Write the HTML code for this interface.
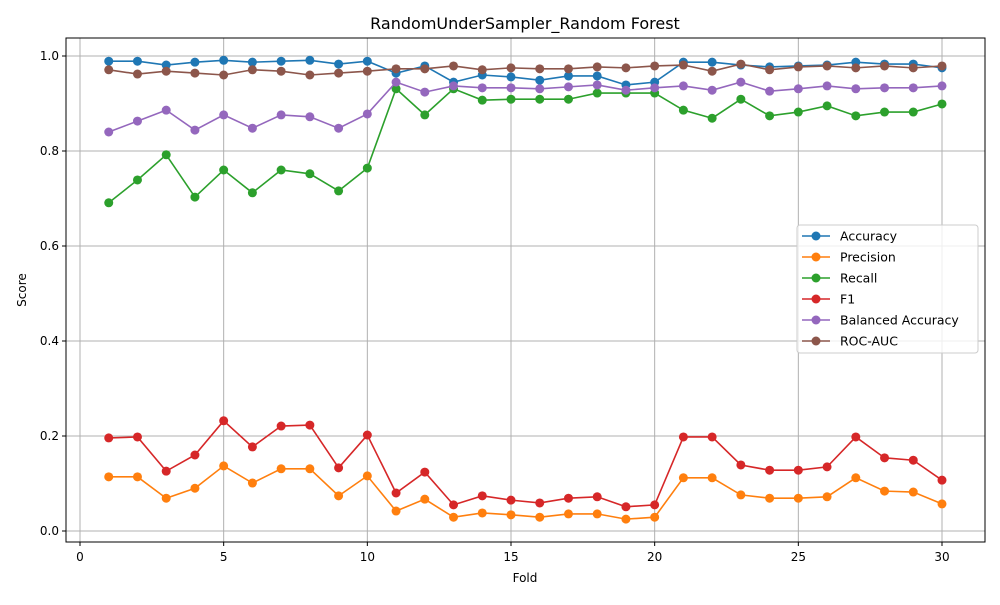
<!DOCTYPE html>
<html><head><meta charset="utf-8"><style>
body{margin:0;background:#fff;font-family:"Liberation Sans","DejaVu Sans",sans-serif;}
svg text{font-family:"DejaVu Sans","Liberation Sans",sans-serif;}
</style></head><body>
<svg id="chart" width="1000" height="600" viewBox="0 0 1000 600">
<rect width="1000" height="600" fill="#fff"/>
<text x="525" y="29" font-size="16" text-anchor="middle">RandomUnderSampler_Random Forest</text>
<g id="grid"></g>
<g id="series"></g>
<rect x="66" y="38" width="919" height="504" fill="none" stroke="#000" stroke-width="1"/>
<g id="axes"></g>
<text x="525" y="582" font-size="12" text-anchor="middle">Fold</text>
<text x="26" y="290" font-size="12" text-anchor="middle" transform="rotate(-90 26 290)">Score</text>
<g id="legend"></g>
</svg>
<script>
const folds = Array.from({length:30},(_,i)=>i+1);
const accuracy = [0.989,0.989,0.981,0.987,0.991,0.987,0.989,0.991,0.983,0.989,0.964,0.979,0.945,0.960,0.956,0.949,0.958,0.958,0.939,0.945,0.987,0.987,0.981,0.977,0.979,0.981,0.987,0.983,0.983,0.975];
const precision = [0.114,0.114,0.069,0.090,0.137,0.101,0.131,0.131,0.074,0.116,0.042,0.067,0.029,0.038,0.034,0.029,0.036,0.036,0.025,0.029,0.112,0.112,0.076,0.069,0.069,0.072,0.112,0.084,0.082,0.057];
const recall = [0.691,0.739,0.792,0.703,0.760,0.712,0.760,0.752,0.716,0.764,0.931,0.876,0.931,0.907,0.909,0.909,0.909,0.922,0.922,0.922,0.886,0.869,0.909,0.874,0.882,0.895,0.874,0.882,0.882,0.899];
const f1 = [0.196,0.198,0.126,0.160,0.232,0.177,0.221,0.223,0.133,0.202,0.080,0.124,0.055,0.074,0.065,0.059,0.069,0.072,0.051,0.055,0.198,0.198,0.139,0.128,0.128,0.135,0.198,0.154,0.149,0.107];
const balancedAccuracy = [0.840,0.863,0.886,0.844,0.876,0.848,0.876,0.872,0.848,0.878,0.945,0.924,0.937,0.933,0.933,0.931,0.935,0.939,0.928,0.933,0.937,0.928,0.945,0.926,0.931,0.937,0.931,0.933,0.933,0.937];
const rocAuc = [0.971,0.962,0.968,0.964,0.960,0.971,0.968,0.960,0.964,0.968,0.973,0.973,0.979,0.971,0.975,0.973,0.973,0.977,0.975,0.979,0.981,0.968,0.983,0.971,0.977,0.979,0.975,0.979,0.975,0.979];
const seriesNames = ["Accuracy","Precision","Recall","F1","Balanced Accuracy","ROC-AUC"];
const xTicks = [0,5,10,15,20,25,30];
const yTicks = [0.0,0.2,0.4,0.6,0.8,1.0];

const colors = ["#1f77b4","#ff7f0e","#2ca02c","#d62728","#9467bd","#8c564b"];
const allSeries = [accuracy,precision,recall,f1,balancedAccuracy,rocAuc];
const NS = "http://www.w3.org/2000/svg";
const xs = v => 80 + v*(942-80)/30;
const ys = v => 531 - v*475;
function mk(tag, attrs, parent){const e=document.createElementNS(NS,tag);for(const k in attrs)e.setAttribute(k,attrs[k]);parent.appendChild(e);return e;}
const grid=document.getElementById('grid'), axes=document.getElementById('axes'), ser=document.getElementById('series'), leg=document.getElementById('legend');
xTicks.forEach(t=>{
  const g=mk('line',{x1:xs(t),x2:xs(t),y1:38,y2:542,stroke:'#b0b0b0','stroke-width':1},grid);
  
  
  mk('line',{x1:xs(t),x2:xs(t),y1:542,y2:546,stroke:'#000'},axes);
  const tx=mk('text',{x:xs(t),y:561,'font-size':12,'text-anchor':'middle'},axes);
  tx.textContent=t;
  
  
});
yTicks.forEach(t=>{
  const g=mk('line',{x1:66,x2:985,y1:ys(t),y2:ys(t),stroke:'#b0b0b0','stroke-width':1},grid);
  
  
  mk('line',{x1:62,x2:66,y1:ys(t),y2:ys(t),stroke:'#000'},axes);
  const tx=mk('text',{x:59,y:ys(t)+4,'font-size':12,'text-anchor':'end'},axes);
  tx.textContent=t.toFixed(1);
  
  
});
allSeries.forEach((arr,si)=>{
  const g=mk('g',{},ser);
  
  
  const pts=arr.map((v,i)=>xs(folds[i])+','+ys(v)).join(' ');
  mk('polyline',{points:pts,fill:'none',stroke:colors[si],'stroke-width':1.6},g);
  arr.forEach((v,i)=>{
    const c=mk('circle',{cx:xs(folds[i]),cy:ys(v),r:4.5,fill:colors[si]},g);
    
    
  });
});
const lb=mk('rect',{x:797,y:225,width:181,height:128,fill:'#fff','fill-opacity':0.8,stroke:'#ccc',rx:3},leg);


seriesNames.forEach((n,i)=>{
  const y=236+i*21;
  const g=mk('g',{},leg);
  
  
  mk('line',{x1:802,x2:830,y1:y,y2:y,stroke:colors[i],'stroke-width':1.6},g);
  mk('circle',{cx:816,cy:y,r:4.5,fill:colors[i]},g);
  const t=mk('text',{x:840,y:y+4.5,'font-size':12.5},g);
  t.textContent=n;
});
</script>
</body></html>
